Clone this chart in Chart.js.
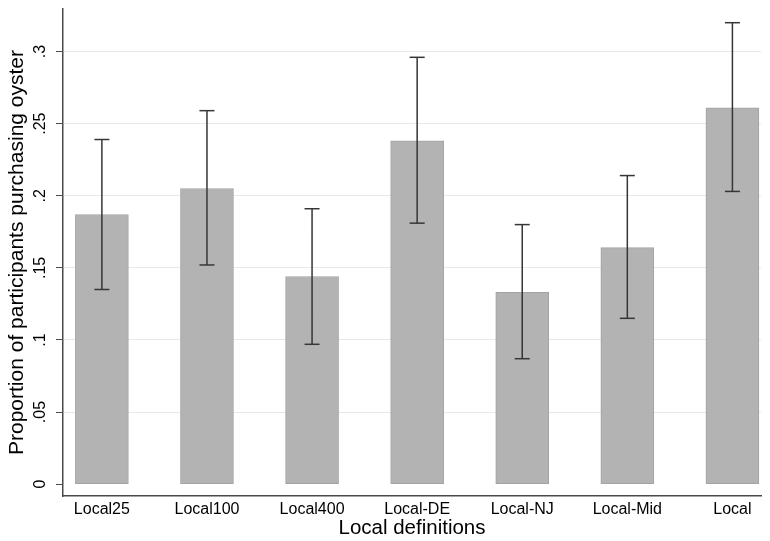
<!DOCTYPE html>
<html>
<head>
<meta charset="utf-8">
<script src="https://cdn.jsdelivr.net/npm/chart.js@4.4.1/dist/chart.umd.min.js"></script>
<style>
  body { margin: 0; background: #fff; }
  canvas { display: block; }
</style>
</head>
<body>
<canvas id="grafico" width="770" height="541"></canvas>
<script>
// Datos del gráfico
var categorias = ['Local25', 'Local100', 'Local400', 'Local-DE', 'Local-NJ', 'Local-Mid', 'Local'];
var proporciones = [0.187, 0.205, 0.144, 0.238, 0.133, 0.164, 0.261];
var ciBajo = [0.135, 0.152, 0.097, 0.181, 0.087, 0.115, 0.203];
var ciAlto = [0.239, 0.259, 0.191, 0.296, 0.180, 0.214, 0.320];
var yTicks = [0, 0.05, 0.1, 0.15, 0.2, 0.25, 0.3];
var yTickLabels = ['0', '.05', '.1', '.15', '.2', '.25', '.3'];

var fuente = "'Liberation Sans', Arial, Helvetica, sans-serif";

var barras = categorias.map(function(c, i) { return { x: i, y: proporciones[i] }; });

// cada intervalo: punto bajo, punto alto y un hueco
var errores = [];
categorias.forEach(function(c, i) {
    errores.push({ x: i, y: ciBajo[i] });
    errores.push({ x: i, y: ciAlto[i] });
    errores.push({ x: i, y: null });
});

var config = {
    type: 'bar',
    data: {
        datasets: [
            {
                type: 'line',
                data: errores,
                order: 0,
                borderColor: '#363636',
                borderWidth: 1.5,
                pointStyle: 'line',
                pointRadius: 7.5,
                pointHoverRadius: 7.5,
                pointBorderWidth: 1.5,
                pointBorderColor: '#363636',
                spanGaps: false,
                tension: 0
            },
            {
                type: 'bar',
                data: barras,
                order: 1,
                backgroundColor: '#b3b3b3',
                borderColor: '#a3a3a3',
                borderWidth: 1,
                borderSkipped: false,
                barThickness: 53
            }
        ]
    },
    options: {
        responsive: false,
        animation: false,
        layout: { padding: { top: 5, right: 1, left: 0, bottom: 0 } },
        plugins: {
            legend: { display: false },
            tooltip: { enabled: false }
        },
        scales: {
            x: {
                type: 'linear',
                min: -0.37,
                max: 6.272,
                offset: false,
                grid: { display: false, drawTicks: false, offset: false },
                border: { display: true, color: '#4a4a4a', width: 1.5 },
                afterBuildTicks: function(s) {
                    s.ticks = categorias.map(function(c, i) { return { value: i }; });
                },
                afterFit: function(s) {
                    s.height = 45;
                    s.paddingLeft = 0;
                    s.paddingRight = 0;
                },
                ticks: {
                    autoSkip: false,
                    maxRotation: 0,
                    padding: 4,
                    color: '#000',
                    font: { family: fuente, size: 16 },
                    callback: function(v, i) { return categorias[i]; }
                },
                title: {
                    display: true,
                    text: 'Local definitions',
                    color: '#000',
                    padding: { top: 0, bottom: 0 },
                    font: { family: fuente, size: 20.5 }
                }
            },
            y: {
                min: -0.0082,
                max: 0.3295,
                grid: {
                    color: function(ctx) { return ctx.tick && ctx.tick.value === 0 ? 'rgba(0,0,0,0)' : '#e8e8e8'; },
                    lineWidth: 1,
                    tickLength: 7,
                    tickColor: '#4a4a4a'
                },
                border: { display: true, color: '#4a4a4a', width: 1.5 },
                afterBuildTicks: function(s) {
                    s.ticks = yTicks.map(function(v) { return { value: v }; });
                },
                afterFit: function(s) {
                    s.width = 63;
                    s.paddingTop = 0;
                    s.paddingBottom = 0;
                },
                ticks: {
                    minRotation: 90,
                    maxRotation: 90,
                    crossAlign: 'center',
                    padding: 4,
                    color: '#000',
                    font: { family: fuente, size: 16 },
                    callback: function(v, i) { return yTickLabels[i]; }
                },
                title: {
                    display: true,
                    text: 'Proportion of participants purchasing oyster',
                    color: '#000',
                    padding: { top: 5, bottom: 0 },
                    font: { family: fuente, size: 21 }
                }
            }
        }
    }
};

var grafico = new Chart(document.getElementById('grafico'), config);
</script>
</body>
</html>
